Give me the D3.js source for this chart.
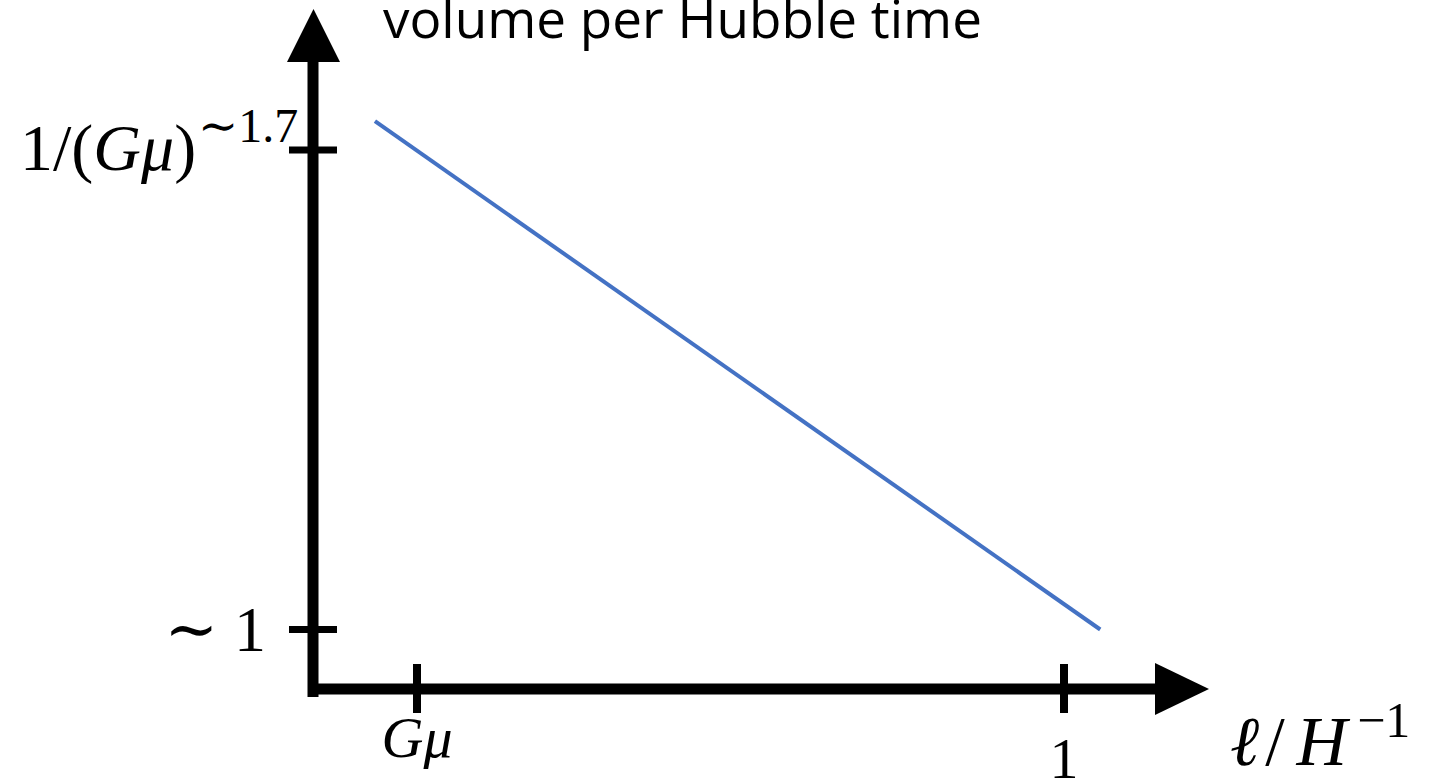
<!DOCTYPE html>
<html>
<head>
<meta charset="utf-8">
<script src="https://cdn.jsdelivr.net/npm/d3@7"></script>
<style>
  body { margin: 0; background: #fff; }
  svg { display: block; }
</style>
</head>
<body>
<div id="chart"></div>
<script>
// positions are in normalised log units: Gμ -> 0, 1 -> 1 on x; ~1 -> 0, top tick -> 1 on y
var xTickValues = [0, 1];
var xTickLabels = ["Gμ", "1"];
var yTickValues = [0, 1];
var yTickLabels = ["∼ 1", "1/(Gμ)^∼1.7"];
var lineX = [-0.065, 1.056];
var lineY = [1.06, 0.0];
var title = "volume per Hubble time";
var xLabel = ["ℓ", "/", "H", "−1"];

var w = 1436;
var h = 784;

var svg = d3.select("#chart")
            .append("svg")
            .attr("width", w)
            .attr("height", h);

svg.append("rect").attr("width", w).attr("height", h).attr("fill", "#fff");

var x = d3.scaleLinear().domain([0, 1]).range([417, 1064]);
var y = d3.scaleLinear().domain([0, 1]).range([629.5, 150]);

var axisX = 313, axisY = 689;

// data line
var line = d3.line()
             .x(function(d) { return x(d[0]); })
             .y(function(d) { return y(d[1]); });

svg.append("path")
   .datum(d3.zip(lineX, lineY))
   .attr("d", line)
   .attr("fill", "none")
   .attr("stroke", "#4472C4")
   .attr("stroke-width", 4);

// axes with arrows
svg.append("line")
   .attr("x1", axisX).attr("y1", 697)
   .attr("x2", axisX).attr("y2", 60)
   .attr("stroke", "#000").attr("stroke-width", 11);
svg.append("path")
   .attr("d", "M287,62L340,62L313.5,9Z")
   .attr("fill", "#000");

svg.append("line")
   .attr("x1", 308).attr("y1", axisY)
   .attr("x2", 1157).attr("y2", axisY)
   .attr("stroke", "#000").attr("stroke-width", 11);
svg.append("path")
   .attr("d", "M1155,663L1155,715L1209,689Z")
   .attr("fill", "#000");

// ticks
svg.selectAll(".ytick")
   .data(yTickValues)
   .enter()
   .append("line")
   .attr("class", "ytick")
   .attr("x1", axisX - 24).attr("x2", axisX + 24)
   .attr("y1", function(d) { return y(d); })
   .attr("y2", function(d) { return y(d); })
   .attr("stroke", "#000").attr("stroke-width", 7);

svg.selectAll(".xtick")
   .data(xTickValues)
   .enter()
   .append("line")
   .attr("class", "xtick")
   .attr("y1", axisY - 25).attr("y2", axisY + 24)
   .attr("x1", function(d) { return x(d); })
   .attr("x2", function(d) { return x(d); })
   .attr("stroke", "#000").attr("stroke-width", 8);

var serif = "'Liberation Serif', 'DejaVu Serif', serif";

// title
svg.append("text")
   .attr("x", 383).attr("y", 38)
   .attr("font-family", "'Open Sans', sans-serif")
   .attr("font-size", 53)
   .attr("fill", "#000")
   .text(title);

// y tick labels
svg.append("text")
   .attr("x", 266).attr("y", y(yTickValues[0]) + 21)
   .attr("text-anchor", "end")
   .attr("font-family", serif)
   .attr("font-size", 64)
   .text(yTickLabels[0]);

var yTop = svg.append("text")
   .attr("x", 20).attr("y", 170)
   .attr("font-family", serif)
   .attr("font-size", 66);
var parts = yTickLabels[1].split("^");
yTop.append("tspan").text("1/(");
yTop.append("tspan").attr("font-style", "italic").text("Gμ");
yTop.append("tspan").text(")");
yTop.append("tspan")
    .attr("font-size", 48)
    .attr("dy", -28)
    .attr("dx", 2)
    .text(parts[1]);

// x tick labels
svg.append("text")
   .attr("x", x(xTickValues[0])).attr("y", 757)
   .attr("text-anchor", "middle")
   .attr("font-family", serif)
   .attr("font-style", "italic")
   .attr("font-size", 58)
   .text(xTickLabels[0]);

svg.append("text")
   .attr("x", x(xTickValues[1])).attr("y", 778)
   .attr("text-anchor", "middle")
   .attr("font-family", serif)
   .attr("font-size", 58)
   .text(xTickLabels[1]);

// x axis label
var xl = svg.append("text")
   .attr("x", 1230).attr("y", 765)
   .attr("font-family", serif)
   .attr("font-size", 70);
xl.append("tspan").attr("font-style", "italic").text(xLabel[0]);
xl.append("tspan").attr("dx", 6).text(xLabel[1]);
xl.append("tspan").attr("font-style", "italic").attr("dx", 12).text(xLabel[2]);
xl.append("tspan")
  .attr("font-size", 50)
  .attr("dy", -28)
  .attr("dx", 10)
  .text(xLabel[3]);
</script>
</body>
</html>
